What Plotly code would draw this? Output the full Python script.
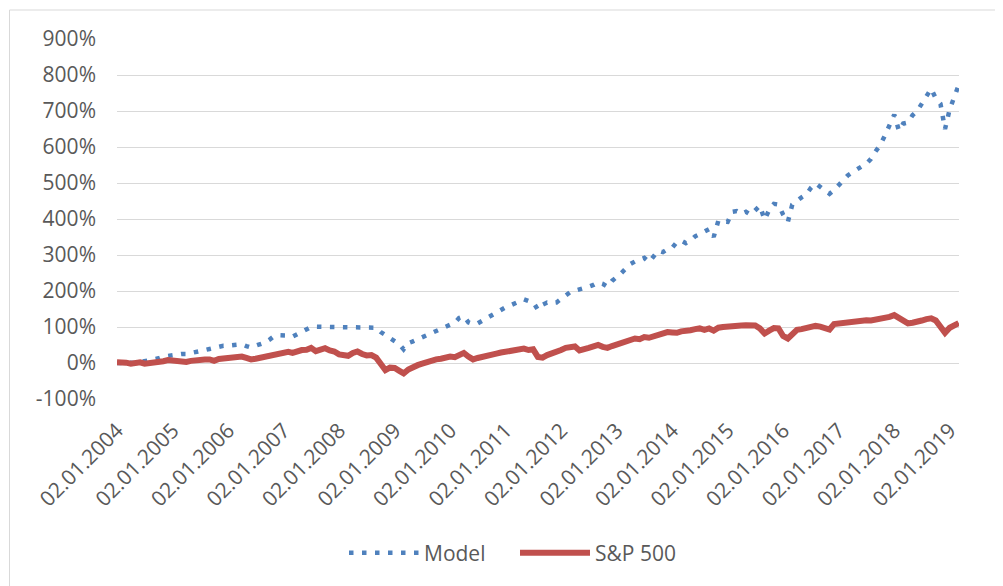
import pandas as pd
import plotly.graph_objects as go

# Monthly observations (first of each month), Jan 2004 .. Mar 2019
dates = pd.date_range("2004-01-01", "2019-03-01", freq="MS")

model = [
    0, 1, 2, 1, 0, 2, 4, 6, 9, 13, 18, 20,                      # 2004
    23, 24, 25, 25, 27, 30, 32, 36, 39, 43, 45, 48,             # 2005
    48, 50, 52, 52, 47, 43, 48, 52, 57, 65, 75, 77,             # 2006
    78, 76, 73, 80, 85, 93, 100, 101, 101, 101, 101, 101,       # 2007
    101, 101, 101, 101, 101, 101, 101, 101, 98, 86, 77, 70,     # 2008
    62, 52, 38, 55, 60, 66, 71, 77, 82, 88, 94, 100,            # 2009
    106, 112, 125, 130, 113, 108, 110, 118, 125, 132, 142, 150, # 2010
    155, 160, 165, 171, 177, 172, 169, 148, 162, 168, 166, 168, # 2011
    178, 190, 197, 201, 204, 207, 212, 217, 224, 220, 212, 228, # 2012
    238, 250, 262, 275, 282, 287, 292, 280, 296, 312, 308, 316, # 2013
    320, 336, 340, 333, 340, 352, 358, 366, 372, 350, 396, 393, # 2014
    392, 420, 422, 414, 420, 412, 425, 437, 398, 425, 442, 440, # 2015
    412, 392, 440, 452, 460, 468, 486, 499, 490, 480, 470, 480, # 2016
    495, 508, 521, 530, 539, 546, 553, 567, 588, 606, 632, 660, # 2017
    690, 645, 665, 668, 688, 700, 722, 745, 762, 735, 720, 650, # 2018
    705, 740, 772,                                              # 2019
]

sp500 = [
    2, 3, 1, -2, 0, 2, -2, -1, 1, 2, 5, 8,                      # 2004
    6, 8, 6, 3, 6, 8, 11, 10, 10, 6, 11, 12,                    # 2005
    15, 16, 17, 18, 14, 10, 12, 15, 18, 22, 25, 27,             # 2006
    30, 31, 28, 33, 36, 37, 42, 33, 36, 41, 35, 32,             # 2007
    24, 23, 20, 28, 32, 25, 21, 22, 15, -2, -20, -13,           # 2008
    -14, -22, -29, -18, -10, -6, -2, 3, 6, 10, 12, 15,          # 2009
    18, 16, 24, 28, 18, 10, 14, 16, 19, 22, 26, 29,             # 2010
    31, 34, 36, 40, 40, 36, 38, 17, 15, 22, 26, 28,             # 2011
    36, 42, 46, 46, 35, 37, 42, 46, 50, 45, 42, 47,             # 2012
    52, 57, 62, 66, 68, 66, 72, 70, 75, 78, 82, 86,             # 2013
    85, 84, 88, 88, 91, 94, 96, 92, 96, 90, 98, 100,            # 2014
    102, 104, 103, 104, 105, 103, 104, 96, 82, 90, 97, 96,      # 2015
    75, 68, 82, 92, 94, 96, 102, 103, 101, 99, 93, 108,         # 2016
    110, 112, 114, 115, 117, 119, 119, 118, 120, 122, 126, 128, # 2017
    133, 124, 116, 110, 112, 113, 118, 122, 124, 118, 102, 84,  # 2018
    98, 106, 111,                                               # 2019
]

tick_years = list(range(2004, 2020))
tick_dates = [f"{y}-01-02" for y in tick_years]
tick_labels = [f"02.01.{y}" for y in tick_years]

y_ticks = list(range(-100, 1000, 100))
y_labels = [f"{v}%" for v in y_ticks]   # plain hyphen-minus like the original

FONT = "Open Sans"
FS = 21
GRAY = "#595959"
GRID = "#D9D9D9"

fig = go.Figure()
fig.add_trace(go.Scatter(
    x=dates, y=model, name="Model", mode="lines",
    line=dict(color="#4F81BD", width=4.5, dash="4.5px,8.5px"),
))
fig.add_trace(go.Scatter(
    x=dates, y=sp500, name="S&P 500", mode="lines",
    line=dict(color="#C0504D", width=6),
))

# the page body has an 8px offset, so the figure is laid out in window
# pixels minus 8
OFF = 8
W, H = 1003 - OFF, 586 - OFF
L, T = 117 - OFF, 39 - OFF
R = W - (959 - OFF)
B = H - (399 - OFF)
pw, ph = W - L - R, H - T - B


def px_x(p):
    return (p - OFF - L) / pw


def px_y(p):
    return (H - B - (p - OFF)) / ph


fig.update_layout(
    width=W, height=H,
    margin=dict(l=L, r=R, t=T, b=B, pad=0, autoexpand=False),
    paper_bgcolor="white", plot_bgcolor="white",
    font=dict(family=FONT, size=FS, color=GRAY),
    showlegend=True,
    legend=dict(
        orientation="h", x=px_x(344), xanchor="left",
        y=px_y(553), yanchor="middle",
        font=dict(family=FONT, size=FS, color=GRAY),
        itemwidth=70, entrywidth=86, entrywidthmode="pixels",
        bgcolor="rgba(0,0,0,0)",
    ),
    xaxis=dict(
        type="date", range=["2004-01-01", "2019-03-03"],
        tickmode="array", tickvals=tick_dates, ticktext=tick_labels,
        tickangle=-45, showgrid=False, zeroline=False, showline=False,
        ticks="", ticklabelstandoff=14, automargin=False,
        tickfont=dict(family=FONT, size=FS, color=GRAY),
    ),
    yaxis=dict(
        range=[-100, 900], tickmode="array", tickvals=y_ticks, ticktext=y_labels,
        showgrid=True, gridcolor=GRID, gridwidth=1,
        zeroline=False, showline=False, ticks="", ticklabelstandoff=20,
        automargin=False,
        tickfont=dict(family=FONT, size=FS, color=GRAY),
    ),
    shapes=[dict(
        type="rect", xref="paper", yref="paper",
        x0=px_x(9.5), x1=px_x(1012), y0=px_y(600), y1=px_y(10),
        line=dict(color=GRID, width=1), fillcolor="rgba(0,0,0,0)", layer="below",
    )],
)

fig.write_html("out.html")
